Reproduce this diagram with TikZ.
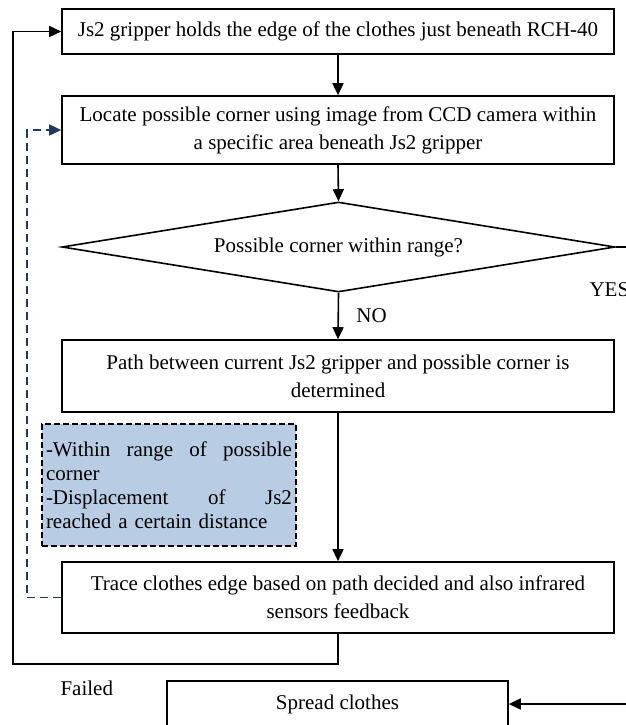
\documentclass[tikz,border=0pt]{standalone}
\usepackage{fontspec}
\setmainfont{Liberation Serif}
\usetikzlibrary{shapes.geometric, arrows.meta}
\definecolor{notefill}{RGB}{184, 204, 228}
\definecolor{loopcolor}{RGB}{31, 56, 100}

\begin{document}
\begin{tikzpicture}[x=1pt, y=-1pt,
  font=\fontsize{21}{28}\selectfont,
  stepbox/.style={draw, line width=1.6pt, align=center, inner sep=0pt},
  flow/.style={-{Triangle[length=12pt, width=11pt]}, line width=1.6pt},
  retry/.style={-{Triangle[length=12pt, width=11pt]}, line width=1.5pt, loopcolor, dash pattern=on 8pt off 5pt},
  ]
  \useasboundingbox (0,0) rectangle (625,725);

  % Pasos principales
  \node[stepbox, minimum width=552pt, minimum height=45pt] (hold) at (338,31.5)
    {Js2 gripper holds the edge of the clothes just beneath RCH-40};
  \node[stepbox, minimum width=552pt, minimum height=68pt] (locate) at (338,130)
    {Locate possible corner using image from CCD camera within\\a specific area beneath Js2 gripper};
  \node[draw, diamond, aspect=6.1, line width=1.6pt, inner sep=0pt,
        minimum width=553pt, minimum height=90pt] (check) at (338.5,247)
    {Possible corner within range?};
  \node[stepbox, minimum width=552pt, minimum height=72pt] (path) at (338,376)
    {Path between current Js2 gripper and possible corner is\\determined};
  \node[stepbox, minimum width=552pt, minimum height=71pt] (trace) at (338,597.5)
    {Trace clothes edge based on path decided and also infrared\\sensors feedback};
  \node[stepbox, minimum width=341pt, minimum height=46pt] (spread) at (337.5,704)
    {Spread clothes};

  % Condiciones de parada
  \node[draw, dash pattern=on 6pt off 3pt, line width=1.5pt, fill=notefill,
        text width=246pt, inner sep=4pt, minimum height=122pt, align=left,
        font=\fontsize{21}{24}\selectfont] (cond) at (169,485)
    {-Within\hfill range\hfill of\hfill possible\\corner\\-Displacement\hfill of\hfill Js2\\reached a certain distance};

  % Flechas
  \draw[flow] (hold.south) -- (locate.north);
  \draw[flow] (locate.south) -- (check.north);
  \draw[flow] (check.south) -- node[right, xshift=14pt] (nolabel) {NO} (path.north);
  \draw[flow] (path.south) -- (trace.north);
  \draw[flow] (check.east) -- ++(25,0) |- (spread.east);
  \node[anchor=west] (yeslabel) at (586,290) {YES};

  % Retorno
  \coordinate (failcorner) at (13,664);
  \draw[flow] (trace.south) |- (failcorner) |- (hold.west);
  \node[anchor=west] (faillabel) at (57,688) {Failed};
  \draw[retry] (trace.west) -- ++(-34,0) |- (locate.west);
\end{tikzpicture}
\end{document}
